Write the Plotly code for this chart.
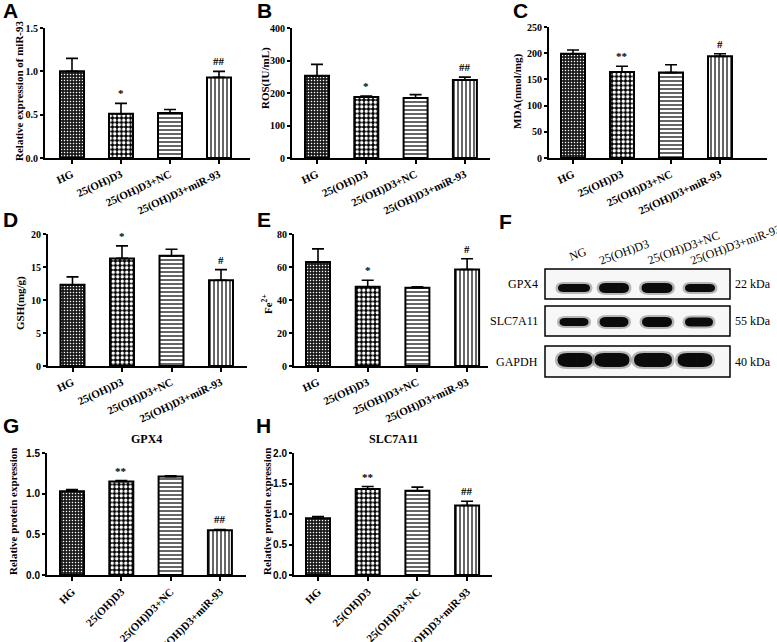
import plotly.graph_objects as go

W, H = 777, 642
SERIF = "Liberation Serif"
SANS = "Liberation Sans"

# ---------------- data ----------------
groups = ["HG", "25(OH)D3", "25(OH)D3+NC", "25(OH)D3+miR-93"]

mir93_mean = [1.00, 0.51, 0.52, 0.93]
mir93_err = [0.15, 0.12, 0.04, 0.07]
mir93_sig = ["", "*", "", "##"]

ros_mean = [253, 188, 185, 240]
ros_err = [35, 3, 10, 9]
ros_sig = ["", "*", "", "##"]

mda_mean = [199, 164, 163, 194]
mda_err = [7, 11, 15, 5]
mda_sig = ["", "**", "", "#"]

gsh_mean = [12.3, 16.3, 16.7, 13.0]
gsh_err = [1.2, 1.9, 1.0, 1.6]
gsh_sig = ["", "*", "", "#"]

fe_mean = [63, 48, 47.5, 58.5]
fe_err = [8, 4, 0.5, 6.5]
fe_sig = ["", "*", "", "#"]

gpx4_mean = [1.03, 1.15, 1.21, 0.55]
gpx4_err = [0.02, 0.01, 0.01, 0.01]
gpx4_sig = ["", "**", "", "##"]

slc_mean = [0.93, 1.41, 1.38, 1.14]
slc_err = [0.03, 0.04, 0.06, 0.07]
slc_sig = ["", "**", "", "##"]

blot_lanes = ["NG", "25(OH)D3", "25(OH)D3+NC", "25(OH)D3+miR-93"]
blot_rows = ["GPX4", "SLC7A11", "GAPDH"]
blot_kda = ["22 kDa", "55 kDa", "40 kDa"]
band_thickness = [[8, 10, 10, 8], [8, 10, 10, 9], [14, 14, 14, 14]]
band_width = [[32, 30, 31, 30], [29, 29, 30, 28], [35, 35, 38, 35]]

# ---------------- styles ----------------
pat_shape = [".", ".", "-", "|"]
pat_bg = ["#1c1c1c", "#000000", "#ffffff", "#ffffff"]
pat_fg = ["#ffffff", "#ffffff", "#000000", "#000000"]
pat_size = [3, 4.5, 4, 4]
pat_sol = [0.2, 0.45, 0.3, 0.3]


def fx(x):
    return x / W


def fy(y):
    return 1 - y / H


panels = [
    dict(L="A", mean=mir93_mean, err=mir93_err, sig=mir93_sig, yr=[0, 1.5], dt=0.5, fmt=".1f",
         box=(45, 250, 28, 158), c0=72, s=49, ang=-25, yfont=SERIF,
         title="Relative expression of miR-93", tpos=(19, 91), letter=(1, 1)),
    dict(L="B", mean=ros_mean, err=ros_err, sig=ros_sig, yr=[0, 400], dt=100, fmt="d",
         box=(292, 490, 28, 158), c0=317, s=49.3, ang=-25, yfont=SERIF,
         title="ROS(IU/mL)", tpos=(265, 78), letter=(255, 1)),
    dict(L="C", mean=mda_mean, err=mda_err, sig=mda_sig, yr=[0, 250], dt=50, fmt="d",
         box=(549, 767, 27, 158), c0=573, s=49, ang=-25, yfont=SERIF,
         title="MDA(nmol/mg)", tpos=(517, 92), letter=(511, 1)),
    dict(L="D", mean=gsh_mean, err=gsh_err, sig=gsh_sig, yr=[0, 20], dt=5, fmt="d",
         box=(48, 247, 234, 366), c0=72.5, s=49.5, ang=-25, yfont=SERIF,
         title="GSH(mg/g)", tpos=(20, 303), letter=(1, 210)),
    dict(L="E", mean=fe_mean, err=fe_err, sig=fe_sig, yr=[0, 80], dt=20, fmt="d",
         box=(294, 488, 234, 366), c0=318, s=49.7, ang=-25, yfont=SERIF,
         title="Fe<sup>2+</sup>", tpos=(267, 304), letter=(255, 210)),
    dict(L="G", mean=gpx4_mean, err=gpx4_err, sig=gpx4_sig, yr=[0, 1.5], dt=0.5, fmt=".1f",
         box=(47, 246, 453, 575), c0=72, s=49.3, ang=-45, yfont=SANS,
         title="Relative protein expression", tpos=(13, 512), letter=(1, 416),
         ptitle="GPX4"),
    dict(L="H", mean=slc_mean, err=slc_err, sig=slc_sig, yr=[0, 2.0], dt=0.5, fmt=".1f",
         box=(294, 492, 453, 575), c0=318, s=49.7, ang=-45, yfont=SANS,
         title="Relative protein expression", tpos=(267, 512), letter=(254, 416),
         ptitle="SLC7A11"),
]

fig = go.Figure()
annotations = []
shapes = []
layout = {}

for i, p in enumerate(panels):
    n = "" if i == 0 else str(i + 1)
    xl, xr, yt, yb = p["box"]
    rng = [(xl - p["c0"]) / p["s"], (xr - p["c0"]) / p["s"]]
    fig.add_trace(go.Bar(
        x=groups, y=p["mean"], xaxis="x" + n, yaxis="y" + n,
        width=24 / p["s"],
        marker=dict(color="white", line=dict(color="black", width=2),
                    pattern=dict(shape=pat_shape, bgcolor=pat_bg, fgcolor=pat_fg,
                                 size=pat_size, solidity=pat_sol, fillmode="replace")),
        error_y=dict(type="data", array=p["err"], arrayminus=[0] * 4, symmetric=False,
                     color="black", thickness=1.6, width=6),
        showlegend=False, hoverinfo="skip",
    ))
    layout["xaxis" + n] = dict(
        domain=[fx(xl), fx(xr)], anchor="y" + n, range=rng, type="category",
        automargin=False,
        showline=True, linecolor="black", linewidth=2, ticks="outside", ticklen=4,
        tickwidth=1.5, tickcolor="black", tickangle=p["ang"], showgrid=False,
        tickfont=dict(family=SERIF, size=11, color="black", weight="bold"),
        fixedrange=True,
    )
    layout["yaxis" + n] = dict(
        domain=[fy(yb), fy(yt)], anchor="x" + n, range=p["yr"], dtick=p["dt"],
        automargin=False,
        tickformat=p["fmt"], showline=True, linecolor="black", linewidth=2,
        ticks="outside", ticklen=3, tickwidth=1.5, tickcolor="black",
        showgrid=False, zeroline=False,
        tickfont=dict(family=p["yfont"], size=10, color="black", weight="bold"),
        fixedrange=True,
    )
    for g, m, e, s in zip(groups, p["mean"], p["err"], p["sig"]):
        if s:
            annotations.append(dict(
                x=g, y=m + e, xref="x" + n, yref="y" + n, text=s, showarrow=False,
                yanchor="bottom", yshift=2,
                font=dict(family=SERIF, size=11, color="black", weight="bold")))
    tx, ty = p["tpos"]
    annotations.append(dict(
        x=fx(tx), y=fy(ty), xref="paper", yref="paper", text=p["title"], textangle=-90,
        showarrow=False, xanchor="center", yanchor="middle",
        font=dict(family=SERIF, size=11, color="black", weight="bold")))
    lx, ly = p["letter"]
    annotations.append(dict(
        x=fx(lx), y=fy(ly - 4), xref="paper", yref="paper", text=p["L"], showarrow=False,
        xanchor="left", yanchor="top",
        font=dict(family=SANS, size=21, color="black", weight="bold")))
    if p.get("ptitle"):
        annotations.append(dict(
            x=fx((xl + xr) / 2), y=fy(439), xref="paper", yref="paper", text=p["ptitle"],
            showarrow=False, xanchor="center", yanchor="middle",
            font=dict(family=SERIF, size=12, color="black", weight="bold")))

# ---------------- panel F: western blot ----------------
annotations.append(dict(
    x=fx(497), y=fy(208), xref="paper", yref="paper", text="F", showarrow=False,
    xanchor="left", yanchor="top",
    font=dict(family=SANS, size=21, color="black", weight="bold")))

box_x = (545, 730)
row_boxes = [(269, 299), (306, 336), (346, 377)]
band_y = [288, 322, 360]
lane_x = [[574, 614, 657, 700], [574, 614, 657, 699], [575, 612, 653, 695]]
lane_label_pos = [(578, 254), (624, 252), (683, 248), (735, 245)]


def band_path(cx, cy, w, h):
    x0, x1 = cx - w / 2, cx + w / 2
    r = min(h * 0.7, w / 2)
    t, b = cy - h / 2, cy + h / 2
    pts = [
        ("M", (x0 + r, t)), ("L", (x1 - r, t)),
        ("Q", (x1, t), (x1, cy)), ("Q", (x1, b), (x1 - r, b)),
        ("L", (x0 + r, b)), ("Q", (x0, b), (x0, cy)), ("Q", (x0, t), (x0 + r, t)),
    ]
    out = []
    for seg in pts:
        cmd = seg[0]
        coords = " ".join(f"{fx(px):.5f},{fy(py):.5f}" for px, py in seg[1:])
        out.append(f"{cmd} {coords}")
    return " ".join(out) + " Z"


for r, (y0, y1) in enumerate(row_boxes):
    shapes.append(dict(type="rect", xref="paper", yref="paper",
                       x0=fx(box_x[0]), x1=fx(box_x[1]), y0=fy(y1), y1=fy(y0),
                       fillcolor="#f7f7f7", line=dict(color="black", width=1.5), layer="below"))
    for k in range(4):
        cx = lane_x[r][k]
        w = band_width[r][k]
        h = band_thickness[r][k]
        shapes.append(dict(type="path", xref="paper", yref="paper",
                           path=band_path(cx, band_y[r], w + 5, h + 4),
                           fillcolor="rgba(60,60,60,0.35)", line=dict(width=0)))
        shapes.append(dict(type="path", xref="paper", yref="paper",
                           path=band_path(cx, band_y[r], w, h),
                           fillcolor="#0b0b0b", line=dict(width=0)))
    annotations.append(dict(
        x=fx(540), y=fy((y0 + y1) / 2), xref="paper", yref="paper", text=blot_rows[r],
        showarrow=False, xanchor="right", yanchor="middle",
        font=dict(family=SERIF, size=12, color="black")))
    annotations.append(dict(
        x=fx(733), y=fy((y0 + y1) / 2), xref="paper", yref="paper", text=blot_kda[r],
        showarrow=False, xanchor="left", yanchor="middle",
        font=dict(family=SERIF, size=12, color="black")))

for lbl, (lx, ly) in zip(blot_lanes, lane_label_pos):
    annotations.append(dict(
        x=fx(lx), y=fy(ly), xref="paper", yref="paper", text=lbl, textangle=-20,
        showarrow=False, xanchor="center", yanchor="middle",
        font=dict(family=SERIF, size=12, color="black")))

fig.update_layout(
    width=W, height=H, margin=dict(l=0, r=0, t=0, b=0, autoexpand=False),
    paper_bgcolor="white", plot_bgcolor="white",
    annotations=annotations, shapes=shapes, bargap=0.5,
    **layout,
)

fig.write_html(
    "out.html",
    config={"displayModeBar": False},
    post_script="document.body.style.margin='0';document.body.style.overflow='hidden';",
)
